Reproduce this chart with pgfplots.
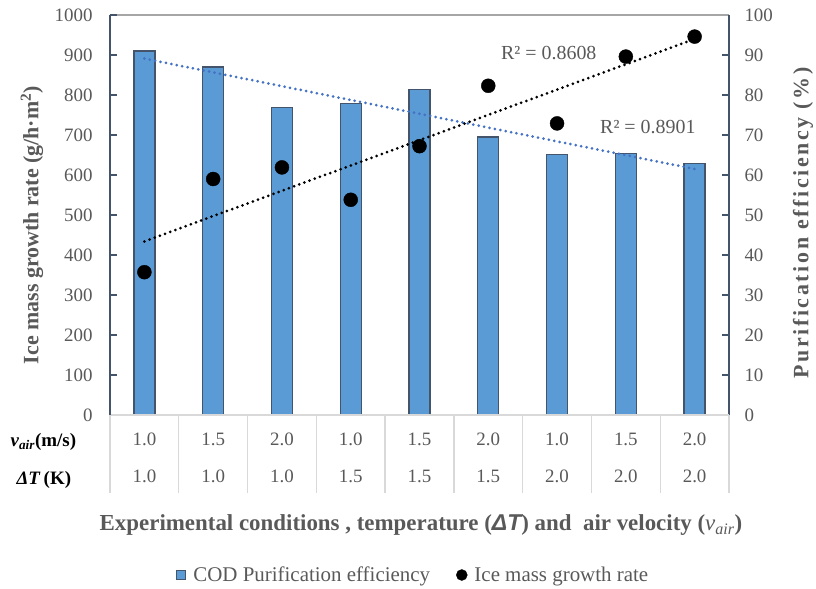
\documentclass[border=0pt]{standalone}
\usepackage{pgfplots}
\pgfplotsset{compat=1.18}
\usepackage{fontspec}
\setmainfont{Liberation Serif}
\newfontfamily\sansf{Liberation Sans}
\definecolor{barblue}{HTML}{5B9BD5}
\definecolor{edge}{HTML}{44546A}
\definecolor{txt}{HTML}{595959}
\definecolor{sep}{HTML}{D9D9D9}
\definecolor{topgray}{HTML}{A6A6A6}
\definecolor{trendblue}{HTML}{4472C4}
\newcommand{\tfont}{\fontsize{19}{22}\selectfont}
\begin{document}
\begin{tikzpicture}[x=1bp,y=1bp]
\useasboundingbox (-110,-174) rectangle (706,415);
% ---------- right axis: COD purification efficiency (bars) ----------
\begin{axis}[
  at={(0,0)}, anchor=south west, scale only axis,
  width=619bp, height=400bp,
  xmin=0.5, xmax=9.5, ymin=0, ymax=100,
  axis x line*=top, axis y line*=right,
  x axis line style={-, topgray, line width=1.3bp},
  y axis line style={-, edge, line width=1.4bp},
  xtick=\empty,
  ytick={0,10,...,100},
  tick align=inside, major tick length=7bp,
  ytick style={edge, line width=1.4bp},
  yticklabel style={txt, font=\tfont, xshift=12bp},
  /pgf/number format/assume math mode=true,
  /pgf/number format/1000 sep={},
  clip=false,
]
\addplot[ybar, bar width=21bp, fill=barblue, draw=edge, line width=1.3bp]
  coordinates {(1,91.0) (2,87.0) (3,76.8) (4,77.9) (5,81.3) (6,69.5) (7,65.2) (8,65.4) (9,62.9)};
\addplot[trendblue, line width=3bp, dash pattern=on 0bp off 5.5bp, line cap=round]
  coordinates {(1,89.1) (9,61.5)};
\node[txt, font=\fontsize{20}{24}\selectfont] at (axis cs:8.32,72.1) {R² = 0.8901};
\end{axis}
% ---------- left axis: ice mass growth rate (dots) ----------
\begin{axis}[
  at={(0,0)}, anchor=south west, scale only axis,
  width=619bp, height=400bp,
  xmin=0.5, xmax=9.5, ymin=0, ymax=1000,
  axis x line*=bottom, axis y line*=left,
  x axis line style={-, sep, line width=1.3bp},
  y axis line style={-, edge, line width=1.4bp},
  xtick={1,...,9}, major x tick style={draw=none},
  xticklabels={{1.0\\1.0},{1.5\\1.0},{2.0\\1.0},{1.0\\1.5},{1.5\\1.5},{2.0\\1.5},{1.0\\2.0},{1.5\\2.0},{2.0\\2.0}},
  xticklabel style={txt, font=\fontsize{19}{38}\selectfont, align=center, yshift=-14bp},
  ytick={0,100,...,1000},
  tick align=inside, major tick length=7bp,
  ytick style={edge, line width=1.4bp},
  yticklabel style={txt, font=\tfont, xshift=-14bp},
  /pgf/number format/assume math mode=true,
  /pgf/number format/1000 sep={},
  clip=false,
  legend style={at={(axis description cs:0.49,-0.4)}, anchor=center, draw=none, fill=none,
    font=\fontsize{21}{24}\selectfont, text=txt, legend columns=2,
    nodes={inner xsep=2bp},
    /tikz/every odd column/.style={column sep=5bp},
    /tikz/every even column/.style={column sep=24bp}},
  legend cell align=left,
]
\pgfplotsinvokeforeach{0.5,1.5,2.5,3.5,4.5,5.5,6.5,7.5,8.5,9.5}{
  \draw[sep, line width=1.3bp] (axis cs:#1,0) -- ([yshift=-78bp]axis cs:#1,0);
}
\addlegendimage{legend image code/.code={\filldraw[fill=barblue, draw=edge, line width=1bp] (-9bp,-4.5bp) rectangle (0bp,4.5bp);}}
\addlegendentry{COD Purification efficiency}
\addlegendimage{legend image code/.code={\fill[black] (-5.5bp,0bp) circle (5.5bp);}}
\addlegendentry{Ice mass growth rate}
\addplot[forget plot, black, line width=3bp, dash pattern=on 0bp off 5.5bp, line cap=round]
  coordinates {(1,434) (9,940)};
\addplot[forget plot, only marks, mark=*, mark size=7bp, mark options={fill=black, draw=black}]
  coordinates {(1,357) (2,590) (3,619) (4,538) (5,672) (6,823) (7,729) (8,896) (9,946)};
\node[txt, font=\fontsize{20}{24}\selectfont] at (axis cs:6.88,906) {R² = 0.8608};
\end{axis}
% ---------- labels ----------
\node[rotate=90, txt, font=\fontsize{22}{26}\selectfont\bfseries] at (-78,190)
  {Ice mass growth rate (g/h·m\textsuperscript{2})};
\node[rotate=90, txt, font=\fontsize{22}{26}\selectfont\bfseries\addfontfeature{LetterSpace=12}] at (693,192)
  {Purification efficiency (\%)};
\node[anchor=west, font=\fontsize{19}{22}\selectfont\bfseries] at (-103,-27)
  {\textit{v}\textsubscript{\textit{air}}(m/s)};
\node[anchor=west, font=\fontsize{19}{22}\selectfont\bfseries] at (-97,-65)
  {\textit{ΔT}\,(K)};
\node[txt, font=\fontsize{23}{27}\selectfont\bfseries] at (311,-110)
  {Experimental conditions , temperature ({\sansf\itshape ΔT}) and \ air velocity ({\mdseries\textit{v}\textsubscript{\textit{air}}})};
\end{tikzpicture}
\end{document}
